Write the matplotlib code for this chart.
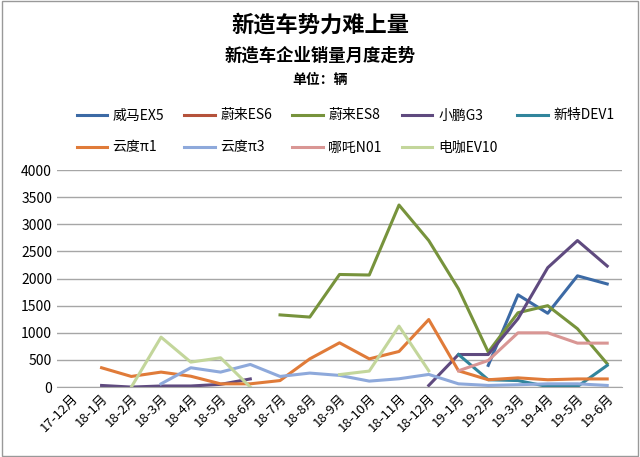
import matplotlib
matplotlib.use("Agg")
import matplotlib.pyplot as plt
import numpy as np

plt.rcParams["font.family"] = ["Noto Sans CJK SC", "DejaVu Sans"]

months = ["17-12月", "18-1月", "18-2月", "18-3月", "18-4月", "18-5月", "18-6月",
          "18-7月", "18-8月", "18-9月", "18-10月", "18-11月", "18-12月",
          "19-1月", "19-2月", "19-3月", "19-4月", "19-5月", "19-6月"]
N = None
weima_ex5 = [N]*14 + [400, 1700, 1360, 2050, 1900]
nio_es6 = [N]*19
nio_es8 = [N]*7 + [1330, 1290, 2075, 2065, 3355, 2700, 1810, 645, 1370, 1500, 1075, 430]
xpeng_g3 = [N, 30, 0, 20, 20, 50, 150] + [N]*5 + [30, 600, 600, 1260, 2200, 2700, 2230]
xinte_dev1 = [N]*13 + [600, 135, 120, 10, 10, 400]
yundu_p1 = [N, 356, 196, 276, 200, 60, 60, 120, 520, 816, 520, 656, 1245, 300, 135, 170, 135, 150, 150]
yundu_p3 = [N, N, N, 60, 356, 276, 417, 196, 258, 215, 110, 153, 233, 60, 30, 43, 60, 60, 30]
neta_n01 = [N]*13 + [300, 490, 1000, 1000, 810, 810]
dianka_ev10 = [N, N, 0, 920, 460, 540, 0, N, N, 230, 295, 1123, 300] + [N]*6

series = [
    ("威马EX5", weima_ex5, "#3c6aa5"),
    ("蔚来ES6", nio_es6, "#b5523b"),
    ("蔚来ES8", nio_es8, "#77933c"),
    ("小鹏G3", xpeng_g3, "#5f4a7f"),
    ("新特DEV1", xinte_dev1, "#31859c"),
    ("云度π1", yundu_p1, "#e07b39"),
    ("云度π3", yundu_p3, "#8ea9db"),
    ("哪吒N01", neta_n01, "#d99694"),
    ("电咖EV10", dianka_ev10, "#c3d69b"),
]

fig = plt.figure(figsize=(6.4, 4.57), dpi=100)
ax = fig.add_axes([0.089, 0.153, 0.883, 0.475])
x = np.arange(len(months))
handles = {}
for name, vals, col in series:
    y = np.array([np.nan if v is None else v for v in vals], dtype=float)
    (h,) = ax.plot(x, y, color=col, lw=2.2, label=name)
    handles[name] = h

ax.set_xlim(-0.5, len(months) - 0.5)
ax.set_ylim(0, 4000)
ax.set_yticks(range(0, 4001, 500))
ax.yaxis.grid(True, color="#a6a6a6", lw=1)
ax.set_axisbelow(True)
for s in ["top", "right", "left"]:
    ax.spines[s].set_visible(False)
ax.spines["bottom"].set_color("#a6a6a6")
ax.tick_params(axis="y", length=0, labelsize=10)
ax.tick_params(axis="x", length=0, labelsize=9.5)
ax.set_xticks(x)
ax.set_xticklabels(months, rotation=45, ha="right", rotation_mode="anchor")

order = ["威马EX5", "云度π1", "蔚来ES6", "云度π3", "蔚来ES8", "哪吒N01",
         "小鹏G3", "电咖EV10", "新特DEV1"]
fig.legend([handles[n] for n in order], order, ncol=5, loc="upper left",
           bbox_to_anchor=(0.1, 0.66, 0.88, 0.13), mode="expand", frameon=False,
           fontsize=10, handlelength=2.2, handletextpad=0.4, labelspacing=1.3)

fig.text(0.5, 0.945, "新造车势力难上量", ha="center", va="center", fontsize=16, fontweight="bold")
fig.text(0.5, 0.878, "新造车企业销量月度走势", ha="center", va="center", fontsize=12.5, fontweight="bold")
fig.text(0.5, 0.826, "单位：辆", ha="center", va="center", fontsize=10, fontweight="bold")

fig.patches.append(plt.Rectangle((0.003, 0.003), 0.994, 0.994, transform=fig.transFigure,
                                 fill=False, ec="#999999", lw=1))
fig.savefig("out.png", dpi=100)
